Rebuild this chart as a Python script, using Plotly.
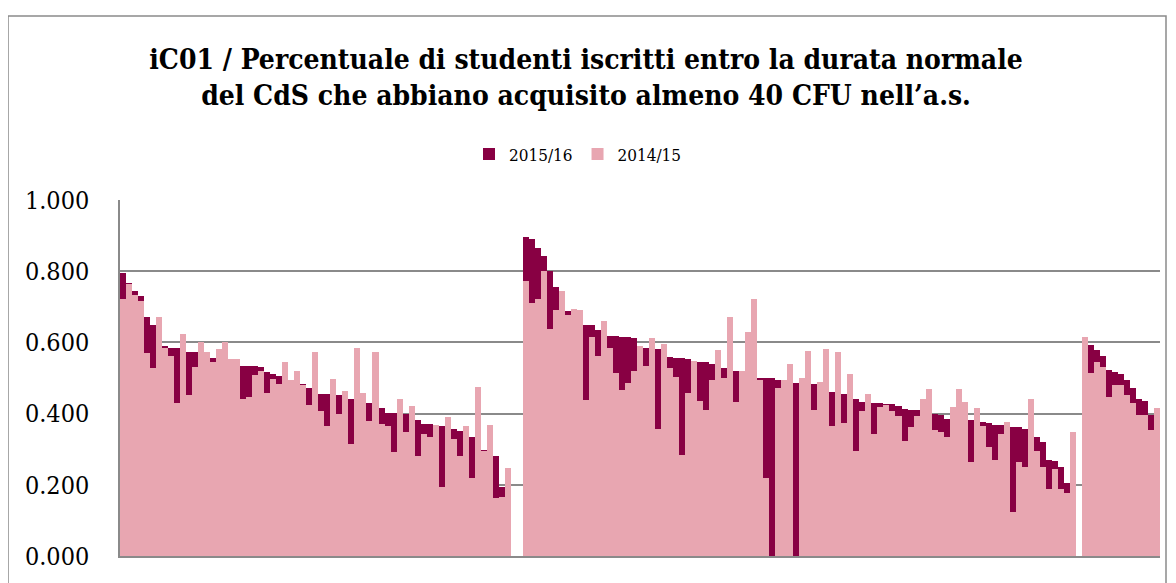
import plotly.graph_objects as go

# values, one bar per CdS, three groups split by empty slots
g1_1516 = [0.794, 0.767, 0.745, 0.731, 0.672, 0.648, 0.600, 0.591, 0.585, 0.585,
           0.560, 0.572, 0.572, 0.550, 0.565, 0.557, 0.540, 0.550, 0.545, 0.540,
           0.533, 0.533, 0.533, 0.531, 0.516, 0.511, 0.507, 0.500, 0.490, 0.490,
           0.483, 0.472, 0.460, 0.456, 0.454, 0.450, 0.451, 0.445, 0.441, 0.440,
           0.435, 0.431, 0.420, 0.417, 0.403, 0.403, 0.400, 0.398, 0.390, 0.383,
           0.372, 0.372, 0.369, 0.366, 0.360, 0.356, 0.352, 0.340, 0.333, 0.300,
           0.299, 0.290, 0.280, 0.193, 0.180]
g1_1415 = [0.722, 0.764, 0.733, 0.717, 0.569, 0.528, 0.672, 0.583, 0.563, 0.430,
           0.624, 0.452, 0.531, 0.600, 0.572, 0.546, 0.581, 0.600, 0.554, 0.554,
           0.440, 0.448, 0.509, 0.519, 0.457, 0.498, 0.483, 0.546, 0.494, 0.520,
           0.479, 0.424, 0.572, 0.407, 0.366, 0.496, 0.398, 0.463, 0.315, 0.583,
           0.458, 0.380, 0.572, 0.370, 0.366, 0.292, 0.442, 0.349, 0.421, 0.280,
           0.343, 0.335, 0.369, 0.194, 0.391, 0.329, 0.280, 0.366, 0.220, 0.474,
           0.296, 0.368, 0.162, 0.167, 0.246]

g2_1516 = [0.895, 0.891, 0.864, 0.843, 0.800, 0.756, 0.720, 0.687, 0.680, 0.675,
           0.650, 0.650, 0.636, 0.630, 0.619, 0.618, 0.616, 0.616, 0.613, 0.590,
           0.583, 0.580, 0.581, 0.570, 0.558, 0.557, 0.556, 0.552, 0.548, 0.546,
           0.545, 0.539, 0.530, 0.528, 0.520, 0.519, 0.515, 0.510, 0.505, 0.500,
           0.500, 0.500, 0.495, 0.490, 0.490, 0.486, 0.485, 0.485, 0.483, 0.470,
           0.465, 0.461, 0.460, 0.454, 0.450, 0.442, 0.432, 0.430, 0.431, 0.429,
           0.428, 0.428, 0.421, 0.414, 0.411, 0.409, 0.400, 0.400, 0.400, 0.396,
           0.386, 0.385, 0.385, 0.385, 0.383, 0.380, 0.376, 0.374, 0.369, 0.367,
           0.365, 0.362, 0.361, 0.356, 0.350, 0.333, 0.319, 0.269, 0.268, 0.250,
           0.206, 0.200]
g2_1415 = [0.773, 0.710, 0.722, 0.800, 0.639, 0.690, 0.744, 0.676, 0.694, 0.690,
           0.438, 0.614, 0.562, 0.660, 0.583, 0.514, 0.467, 0.486, 0.520, 0.590,
           0.534, 0.611, 0.356, 0.595, 0.528, 0.504, 0.284, 0.457, 0.549, 0.435,
           0.409, 0.495, 0.578, 0.500, 0.672, 0.433, 0.519, 0.628, 0.722, 0.493,
           0.220, 0.000, 0.472, 0.493, 0.539, 0.000, 0.500, 0.577, 0.409, 0.489,
           0.581, 0.366, 0.572, 0.375, 0.511, 0.294, 0.407, 0.456, 0.342, 0.419,
           0.424, 0.407, 0.393, 0.324, 0.363, 0.394, 0.442, 0.469, 0.354, 0.347,
           0.335, 0.419, 0.470, 0.432, 0.264, 0.417, 0.366, 0.306, 0.269, 0.342,
           0.376, 0.125, 0.264, 0.249, 0.440, 0.296, 0.249, 0.187, 0.243, 0.187,
           0.178, 0.347]

g3_1516 = [0.600, 0.593, 0.579, 0.563, 0.523, 0.517, 0.510, 0.495, 0.472, 0.440,
           0.435, 0.395, 0.390]
g3_1415 = [0.616, 0.515, 0.546, 0.530, 0.447, 0.480, 0.480, 0.452, 0.430, 0.396,
           0.396, 0.355, 0.415]

y_ticks = [0, 0.2, 0.4, 0.6, 0.8, 1.0]

s1516 = g1_1516 + [None, None] + g2_1516 + [None] + g3_1516
s1415 = g1_1415 + [None, None] + g2_1415 + [None] + g3_1415
cats = list(range(len(s1516)))

# the page body has an 8px margin, so work in figure coords = page - 8
OFF = 8
W, H = 1176 - OFF, 583 - OFF
L, R, T, B = 120 - OFF, 1160 - OFF, 200 - OFF, 560 - OFF   # plot area

fig = go.Figure()
fig.add_trace(go.Bar(x=cats, y=s1516, name="2015/16",
                     marker=dict(color="#880043", line=dict(width=0))))
fig.add_trace(go.Bar(x=cats, y=s1415, name="2014/15",
                     marker=dict(color="#E8A6B1", line=dict(width=0))))

serif = "DejaVu Serif Condensed, DejaVu Serif, serif"

fig.update_layout(
    width=W, height=H,
    barmode="overlay", bargap=0,
    plot_bgcolor="white", paper_bgcolor="white",
    margin=dict(l=L, r=W - R, t=T, b=H - B),
    font=dict(family=serif, color="black"),
    title=dict(
        text="iC01 / Percentuale di studenti iscritti entro la durata normale<br>"
             "del CdS che abbiano acquisito almeno 40 CFU nell’a.s.",
        x=(586 - OFF) / W, xanchor="center", xref="container",
        y=1 - (69 - OFF) / H, yanchor="middle", yref="container",
        font=dict(family=serif, size=28, color="black", weight="bold"),
    ),
    legend=dict(orientation="h", x=(578 - OFF - L) / (R - L), xanchor="center",
                y=(B - (154 - OFF)) / (B - T), yanchor="middle",
                font=dict(family=serif, size=17), traceorder="normal",
                itemwidth=30),
    xaxis=dict(range=[-0.5, len(cats) - 0.5], showticklabels=False,
               showgrid=False, zeroline=False, showline=True,
               linecolor="#8a8a8a", linewidth=1.5, ticks=""),
    yaxis=dict(range=[0, 1.0], tickvals=y_ticks, tickformat=".3f",
               showgrid=True, gridcolor="#8a8a8a", gridwidth=1.5,
               zeroline=False, showline=True, linecolor="#8a8a8a",
               linewidth=1.5, ticks="outside", ticklen=24,
               tickcolor="rgba(0,0,0,0)",
               tickfont=dict(family=serif, size=25, color="black")),
    shapes=[dict(type="rect", xref="paper", yref="paper",
                 x0=(8 - OFF - L) / (R - L), x1=(1166 - OFF - L) / (R - L),
                 y0=(B - 600) / (B - T), y1=(B - (14 - OFF)) / (B - T),
                 line=dict(color="#8a8a8a", width=1.5), layer="below")],
)

fig.write_html("out.html")
